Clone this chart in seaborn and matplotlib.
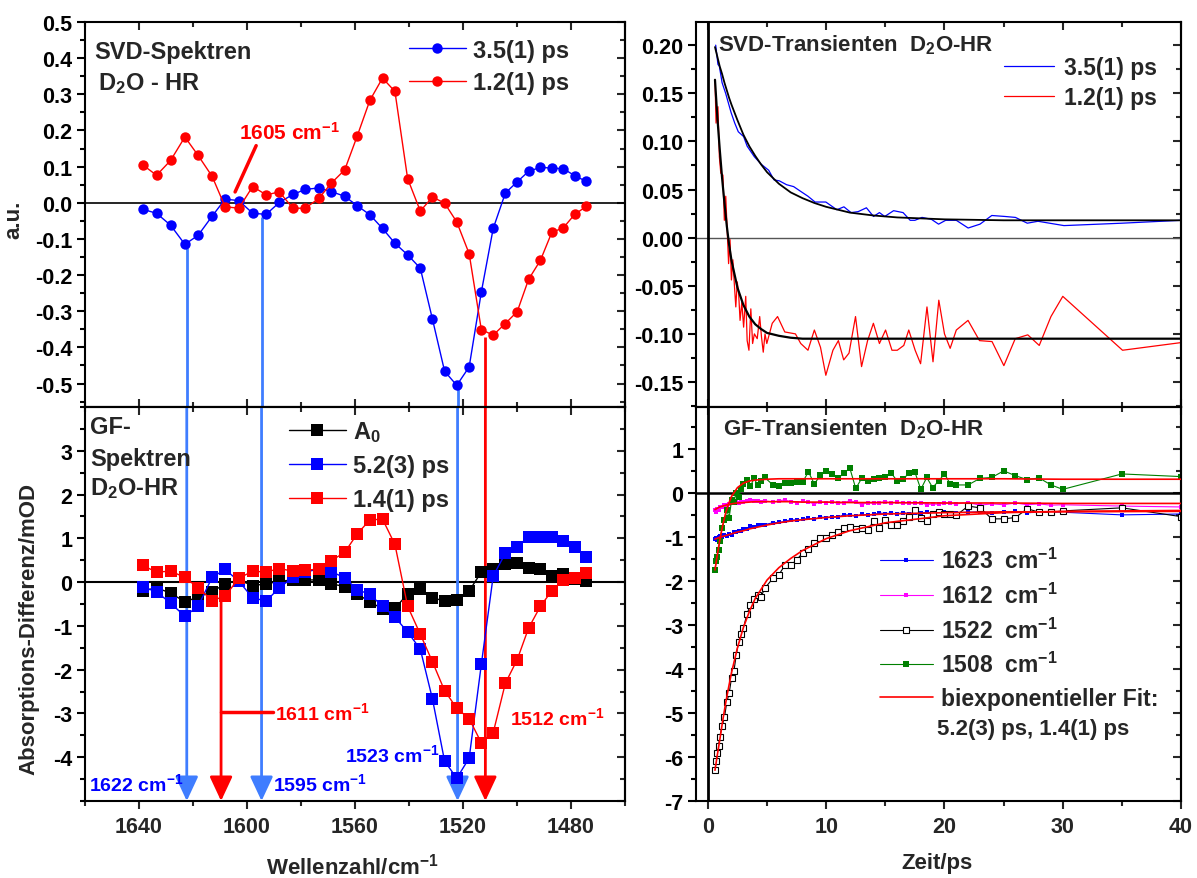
import matplotlib
matplotlib.use("Agg")
import matplotlib.pyplot as plt
import seaborn as sns
from matplotlib.ticker import MultipleLocator, FixedLocator, FormatStrFormatter

# ---------------- spectra (left column) ----------------
wavenumber = [1638.6, 1633.5, 1628.3, 1623.0, 1618.1, 1612.9, 1608.1, 1603.0, 1597.9, 1592.9,
              1588.0, 1583.0, 1578.4, 1573.4, 1568.8, 1563.8, 1559.2, 1554.5, 1549.8, 1545.2,
              1540.5, 1535.8, 1531.3, 1526.8, 1522.3, 1517.7, 1513.2, 1508.8, 1504.3, 1499.9,
              1495.7, 1491.3, 1487.1, 1482.8, 1478.6, 1474.3]
svd_35ps = [-0.018, -0.029, -0.062, -0.115, -0.090, -0.037, 0.010, 0.006, -0.029, -0.032,
            0.001, 0.023, 0.037, 0.041, 0.031, 0.018, -0.008, -0.033, -0.071, -0.112,
            -0.144, -0.181, -0.322, -0.466, -0.505, -0.454, -0.247, -0.071, 0.027, 0.058,
            0.087, 0.098, 0.096, 0.094, 0.075, 0.059]
svd_12ps = [0.105, 0.076, 0.117, 0.182, 0.131, 0.073, -0.011, -0.015, 0.045, 0.022,
            0.030, -0.015, -0.015, 0.012, 0.054, 0.091, 0.184, 0.283, 0.345, 0.308,
            0.067, -0.023, 0.016, -0.001, -0.053, -0.141, -0.351, -0.366, -0.334, -0.301,
            -0.212, -0.159, -0.082, -0.069, -0.032, -0.010]
gf_a0 = [-0.20, -0.13, -0.25, -0.45, -0.34, -0.22, -0.04, 0.05, -0.08, -0.04,
         0.02, 0.05, 0.05, 0.05, -0.04, -0.10, -0.27, -0.45, -0.61, -0.60,
         -0.27, -0.15, -0.36, -0.43, -0.40, -0.20, 0.23, 0.30, 0.42, 0.44,
         0.32, 0.29, 0.14, 0.19, 0.08, 0.02]
gf_52ps = [-0.11, -0.22, -0.48, -0.78, -0.55, 0.11, 0.29, 0.02, -0.36, -0.43,
           -0.13, 0.11, 0.23, 0.30, 0.24, 0.10, -0.17, -0.28, -0.55, -0.80,
           -1.14, -1.53, -2.67, -4.09, -4.48, -4.02, -1.88, 0.14, 0.66, 0.80,
           1.04, 1.02, 1.04, 0.93, 0.80, 0.57]
gf_14ps = [0.38, 0.23, 0.25, 0.11, -0.13, -0.42, -0.32, 0.09, 0.25, 0.23,
           0.31, 0.25, 0.27, 0.30, 0.49, 0.68, 1.10, 1.42, 1.44, 0.86,
           -0.55, -1.19, -1.82, -2.48, -2.88, -3.12, -3.67, -3.44, -2.31, -1.77,
           -1.05, -0.55, -0.20, 0.05, 0.09, 0.20]

# ---------------- SVD transients (top right) ----------------
t_svd_blue = [0.66, 0.85, 0.97, 1.2, 1.5, 1.96, 2.27, 2.57, 3.02, 3.32,
              3.93, 4.53, 5.14, 5.59, 6.04, 6.65, 7.25, 7.85, 8.46, 9.06,
              9.97, 10.9, 11.5, 12.1, 12.7, 13.4, 14.0, 14.5, 14.95, 15.7,
              16.5, 17.1, 17.5, 18.1, 18.9, 19.5, 20.1, 21.0, 22.0, 23.0,
              24.0, 25.1, 26.0, 27.0, 27.9, 30.1, 35.0, 40.0]
svd_blue = [0.200, 0.180, 0.178, 0.161, 0.150, 0.130, 0.119, 0.110, 0.105, 0.095,
            0.084, 0.076, 0.070, 0.060, 0.059, 0.055, 0.053, 0.048, 0.043, 0.037,
            0.037, 0.029, 0.032, 0.026, 0.027, 0.031, 0.022, 0.026, 0.022, 0.028,
            0.026, 0.018, 0.018, 0.021, 0.019, 0.014, 0.018, 0.018, 0.010, 0.014,
            0.023, 0.022, 0.021, 0.015, 0.017, 0.0125, 0.015, 0.018]
t_svd_red = [0.60, 0.69, 0.85, 0.97, 1.09, 1.27, 1.39, 1.51, 1.63, 1.75,
             1.87, 1.99, 2.11, 2.27, 2.36, 2.48, 2.60, 2.72, 2.87, 3.02,
             3.20, 3.32, 3.47, 3.63, 3.78, 3.93, 4.17, 4.38, 4.53, 4.68,
             4.83, 4.98, 5.20, 5.44, 5.89, 6.50, 7.40, 7.85, 8.46, 9.00,
             9.52, 9.97, 10.57, 11.03, 11.48, 11.93, 12.48, 12.99, 13.50, 13.99,
             14.50, 15.02, 15.56, 16.01, 16.56, 16.98, 17.52, 17.98, 18.52, 19.03,
             19.52, 20.00, 20.48, 21.00, 21.99, 22.96, 24.02, 25.02, 25.98, 27.04,
             28.01, 29.00, 30.00, 35.05, 40.03]
svd_red = [0.164, 0.119, 0.136, 0.084, 0.067, 0.065, 0.018, 0.043, 0.008, -0.027,
           -0.002, -0.044, -0.023, -0.055, -0.072, -0.046, -0.058, -0.086, -0.067, -0.093,
           -0.061, -0.107, -0.117, -0.074, -0.110, -0.100, -0.105, -0.082, -0.103, -0.119,
           -0.100, -0.110, -0.100, -0.089, -0.082, -0.098, -0.100, -0.110, -0.117, -0.096,
           -0.114, -0.143, -0.117, -0.107, -0.127, -0.120, -0.082, -0.134, -0.107, -0.089,
           -0.110, -0.096, -0.117, -0.117, -0.112, -0.096, -0.117, -0.131, -0.072, -0.129,
           -0.065, -0.100, -0.115, -0.096, -0.086, -0.107, -0.108, -0.133, -0.105, -0.101,
           -0.112, -0.082, -0.061, -0.117, -0.109]
t_svd_fit = [0.6, 0.8, 1.0, 1.2, 1.4, 1.6, 1.8, 2.0, 2.5, 3.0, 3.5, 4.0, 4.5, 5.0,
             6.0, 7.0, 8.0, 9.0, 10.0, 12.0, 14.0, 16.0, 18.0, 20.0, 25.0, 30.0, 40.0]
svd_blue_fit = [0.198, 0.188, 0.178, 0.170, 0.161, 0.153, 0.145, 0.138, 0.122, 0.107,
                0.095, 0.085, 0.076, 0.068, 0.056, 0.047, 0.041, 0.036, 0.032, 0.026,
                0.023, 0.021, 0.020, 0.019, 0.018, 0.018, 0.018]
svd_red_fit = [0.164, 0.125, 0.092, 0.062, 0.036, 0.012, -0.008, -0.024, -0.052, -0.070,
               -0.082, -0.090, -0.095, -0.099, -0.102, -0.104, -0.105, -0.105, -0.105, -0.105,
               -0.105, -0.105, -0.105, -0.105, -0.105, -0.105, -0.105]

# ---------------- GF transients (bottom right) ----------------
t_gf = [0.6, 0.7, 0.8, 0.9, 1.0, 1.2, 1.4, 1.6, 1.8, 2.0,
        2.2, 2.4, 2.6, 2.8, 3.0, 3.3, 3.6, 3.9, 4.2, 4.5,
        4.8, 5.5, 6.0, 6.5, 7.0, 7.5, 8.0, 8.5, 9.0, 9.5,
        10.0, 10.5, 11.0, 11.5, 12.0, 12.5, 13.0, 13.5, 14.0, 14.5,
        15.0, 15.5, 16.0, 16.5, 17.0, 17.5, 18.0, 18.5, 19.0, 19.5,
        20.0, 20.5, 21.0, 22, 23, 24, 25, 26, 27, 28,
        29, 30, 35, 40]
gf_1623 = [-1.05, -1.02, -1.06, -1.00, -0.99, -1.00, -0.96, -0.97, -0.93, -0.95,
           -0.90, -0.88, -0.86, -0.87, -0.83, -0.82, -0.76, -0.78, -0.74, -0.74,
           -0.72, -0.68, -0.67, -0.65, -0.61, -0.62, -0.60, -0.58, -0.60, -0.55,
           -0.56, -0.55, -0.55, -0.50, -0.50, -0.53, -0.49, -0.50, -0.49, -0.46,
           -0.47, -0.46, -0.48, -0.45, -0.47, -0.45, -0.46, -0.44, -0.46, -0.45,
           -0.44, -0.46, -0.45, -0.44, -0.43, -0.45, -0.44, -0.42, -0.45, -0.44,
           -0.43, -0.44, -0.50, -0.48]
gf_1612 = [-0.40, -0.43, -0.36, -0.38, -0.33, -0.31, -0.28, -0.27, -0.25, -0.24,
           -0.23, -0.21, -0.22, -0.20, -0.21, -0.19, -0.17, -0.19, -0.18, -0.20,
           -0.18, -0.21, -0.18, -0.16, -0.20, -0.22, -0.19, -0.21, -0.25, -0.21,
           -0.22, -0.20, -0.24, -0.22, -0.18, -0.21, -0.27, -0.22, -0.24, -0.22,
           -0.20, -0.23, -0.21, -0.24, -0.22, -0.24, -0.22, -0.27, -0.25, -0.26,
           -0.23, -0.24, -0.25, -0.22, -0.28, -0.25, -0.27, -0.23, -0.27, -0.25,
           -0.28, -0.27, -0.30, -0.32]
gf_1522 = [-6.30, -6.10, -5.90, -5.75, -5.55, -5.30, -5.10, -4.75, -4.55, -4.20,
           -4.05, -3.68, -3.38, -3.20, -3.08, -2.75, -2.55, -2.42, -2.32, -2.36,
           -2.17, -1.94, -1.86, -1.65, -1.65, -1.52, -1.37, -1.27, -1.14, -1.02,
           -1.02, -0.95, -0.89, -0.79, -0.77, -0.83, -0.79, -0.85, -0.64, -0.79,
           -0.62, -0.74, -0.74, -0.64, -0.55, -0.40, -0.56, -0.64, -0.49, -0.44,
           -0.47, -0.47, -0.51, -0.30, -0.34, -0.59, -0.59, -0.56, -0.36, -0.44,
           -0.44, -0.41, -0.34, -0.54]
gf_1508 = [-1.75, -1.55, -1.45, -1.30, -1.10, -0.80, -0.62, -0.40, -0.56, -0.17,
           -0.20, 0.00, -0.10, 0.08, 0.20, 0.30, 0.15, 0.33, 0.18, 0.26,
           0.35, 0.18, 0.15, 0.22, 0.22, 0.24, 0.24, 0.48, 0.20, 0.40,
           0.50, 0.43, 0.33, 0.45, 0.56, 0.10, 0.33, 0.27, 0.31, 0.33,
           0.35, 0.45, 0.27, 0.31, 0.45, 0.47, 0.08, 0.35, 0.12, 0.27,
           0.43, 0.20, 0.18, 0.18, 0.33, 0.35, 0.50, 0.39, 0.30, 0.34,
           0.18, 0.08, 0.43, 0.37]
t_gf_fit = [0.6, 0.8, 1.0, 1.25, 1.5, 1.75, 2.0, 2.5, 3.0, 3.5, 4.0,
            5.0, 6.0, 7.0, 8.0, 10.0, 12.0, 15.0, 20.0, 25.0, 30.0, 40.0]
fit_1522 = [-6.30, -5.95, -5.62, -5.18, -4.78, -4.42, -4.08, -3.52, -3.06, -2.70, -2.40,
            -1.98, -1.70, -1.49, -1.31, -1.04, -0.86, -0.68, -0.52, -0.45, -0.42, -0.40]
fit_1623 = [-1.05, -1.03, -1.01, -0.99, -0.97, -0.95, -0.93, -0.89, -0.86, -0.82, -0.79,
            -0.73, -0.68, -0.64, -0.61, -0.56, -0.52, -0.48, -0.45, -0.43, -0.43, -0.42]
fit_1612 = [-0.38, -0.35, -0.32, -0.30, -0.28, -0.26, -0.25, -0.23, -0.22, -0.21, -0.20,
            -0.20, -0.20, -0.20, -0.21, -0.21, -0.22, -0.22, -0.23, -0.23, -0.24, -0.24]
fit_1508 = [-1.75, -1.40, -1.08, -0.74, -0.46, -0.25, -0.08, 0.12, 0.22, 0.27, 0.29,
            0.31, 0.32, 0.32, 0.32, 0.32, 0.32, 0.32, 0.32, 0.32, 0.31, 0.31]

# ---------------- style ----------------
sns.set_theme(style="ticks")
plt.rcParams['font.family'] = ['Liberation Sans', 'DejaVu Sans']
plt.rcParams['font.weight'] = 'bold'
plt.rcParams['axes.labelweight'] = 'bold'
plt.rcParams['axes.unicode_minus'] = False
plt.rcParams['mathtext.fontset'] = 'custom'
plt.rcParams['mathtext.rm'] = 'Liberation Sans:bold'
plt.rcParams['mathtext.it'] = 'Liberation Sans:bold'
plt.rcParams['mathtext.bf'] = 'Liberation Sans:bold'
plt.rcParams['mathtext.default'] = 'rm'
plt.rcParams['axes.linewidth'] = 1.5

TICK = 15.5
LAB = 16
ARROW_BLUE = '#3f7dff'

fig = plt.figure(figsize=(11.97, 8.79), dpi=100)
ax_tl = fig.add_axes([0.0710, 0.5358, 0.4511, 0.4380])
ax_bl = fig.add_axes([0.0710, 0.0876, 0.4511, 0.4482])
ax_tr = fig.add_axes([0.5815, 0.5358, 0.4052, 0.4380])
ax_br = fig.add_axes([0.5815, 0.0876, 0.4052, 0.4482])


def style_axis(ax, xmaj, xmin, ymaj, ymin, bottom_labels):
    ax.set_facecolor('white')
    for s in ax.spines.values():
        s.set_linewidth(1.5)
        s.set_color('black')
    ax.xaxis.set_major_locator(MultipleLocator(xmaj))
    ax.xaxis.set_minor_locator(MultipleLocator(xmin))
    ax.yaxis.set_minor_locator(MultipleLocator(ymin))
    ax.tick_params(axis='y', which='both', direction='out', left=True, right=False,
                   width=1.5, labelsize=TICK, colors='black', pad=3)
    ax.tick_params(axis='y', which='major', length=6)
    ax.tick_params(axis='y', which='minor', length=3.5)
    if bottom_labels:
        ax.tick_params(axis='x', which='both', direction='out', bottom=True, top=False,
                       width=1.5, labelsize=TICK, pad=5)
        ax.tick_params(axis='x', which='major', length=6)
        ax.tick_params(axis='x', which='minor', length=3.5)
        sx = ax.secondary_xaxis('top')
        sx.xaxis.set_major_locator(MultipleLocator(xmaj))
        sx.xaxis.set_minor_locator(MultipleLocator(xmin))
        sx.tick_params(which='both', direction='in', labeltop=False, width=1.5)
        sx.tick_params(which='major', length=6)
        sx.tick_params(which='minor', length=3.5)
    else:
        ax.tick_params(axis='x', which='both', direction='in', bottom=True, top=True,
                       labelbottom=False, width=1.5)
        ax.tick_params(axis='x', which='major', length=6)
        ax.tick_params(axis='x', which='minor', length=3.5)
    sy = ax.secondary_yaxis('right')
    sy.yaxis.set_major_locator(MultipleLocator(ymaj))
    sy.yaxis.set_minor_locator(MultipleLocator(ymin))
    sy.tick_params(which='both', direction='in', labelright=False, width=1.5)
    sy.tick_params(which='major', length=6)
    sy.tick_params(which='minor', length=3.5)


# ---------------- top left: SVD spectra ----------------
ax = ax_tl
ax.axhline(0, color='black', lw=1.2, zorder=1)
# marker lines from the SVD spectra down into the GF panel
for x, y0, c in [(1622.3, -0.125, ARROW_BLUE), (1594.6, -0.04, ARROW_BLUE),
                 (1522.0, -0.515, ARROW_BLUE), (1511.7, -0.372, 'red')]:
    ax.plot([x, x], [y0, -0.565], color=c, lw=2, zorder=1, solid_capstyle='butt')
sns.lineplot(x=wavenumber, y=svd_35ps, ax=ax, color='blue', lw=1, marker='o',
             markersize=7.5, markeredgewidth=0, label='3.5(1) ps', zorder=3)
sns.lineplot(x=wavenumber, y=svd_12ps, ax=ax, color='red', lw=1, marker='o',
             markersize=7.5, markeredgewidth=0, label='1.2(1) ps', zorder=3)
ax.set_xlim(1660, 1460)
ax.set_ylim(-0.565, 0.5)
ax.yaxis.set_major_locator(MultipleLocator(0.1))
ax.yaxis.set_major_formatter(FormatStrFormatter('%.1f'))
style_axis(ax, 40, 20, 0.1, 0.05, False)
ax.set_ylabel('a.u.', fontsize=LAB)
ax.yaxis.set_label_coords(-0.112, 0.49)
ax.text(1656.7, 0.40, 'SVD-Spektren', fontsize=17, fontweight='bold')
ax.text(1655.3, 0.314, 'D$_2$O - HR', fontsize=17, fontweight='bold')
ax.text(1602.9, 0.176, '1605 cm$^{-1}$', fontsize=15, color='red', fontweight='bold')
ax.plot([1604.4, 1596.6], [0.030, 0.158], color='red', lw=2.5)
ax.legend(loc='upper left', bbox_to_anchor=(0.60, 0.957), frameon=False,
          fontsize=17, handlelength=2.4, handletextpad=0.3, labelspacing=0.4,
          borderpad=0, borderaxespad=0)

# ---------------- bottom left: GF spectra ----------------
ax = ax_bl
ax.axhline(0, color='black', lw=1.5, zorder=1)
arrow_style = '-|>,head_length=0.75,head_width=0.35'
for x, y0, c in [(1622.3, 4.0, ARROW_BLUE), (1609.6, -0.36, 'red'), (1594.6, 4.0, ARROW_BLUE),
                 (1522.0, 4.0, ARROW_BLUE), (1511.7, 4.0, 'red')]:
    ax.annotate('', xy=(x, -5.0), xytext=(x, y0),
                arrowprops=dict(arrowstyle=arrow_style, color=c, lw=2,
                                shrinkA=0, shrinkB=0, mutation_scale=20), zorder=1)
sns.lineplot(x=wavenumber, y=gf_a0, ax=ax, color='black', lw=1, marker='s',
             markersize=8, markeredgewidth=0, label='A$_0$', zorder=3)
sns.lineplot(x=wavenumber, y=gf_52ps, ax=ax, color='blue', lw=1, marker='s',
             markersize=8, markeredgewidth=0, label='5.2(3) ps', zorder=3)
sns.lineplot(x=wavenumber, y=gf_14ps, ax=ax, color='red', lw=1, marker='s',
             markersize=8, markeredgewidth=0, label='1.4(1) ps', zorder=3)
ax.set_xlim(1660, 1460)
ax.set_ylim(-5, 4)
ax.yaxis.set_major_locator(FixedLocator([-4, -3, -2, -1, 0, 1, 2, 3]))
style_axis(ax, 40, 20, 1, 0.5, True)
ax.set_xlabel('Wellenzahl/cm$^{-1}$', fontsize=LAB)
ax.xaxis.set_label_coords(0.496, -0.13)
ax.set_ylabel('Absorptions-Differenz/mOD', fontsize=LAB)
ax.yaxis.set_label_coords(-0.085, 0.44)
ax.text(1658.1, 3.40, 'GF-', fontsize=17)
ax.text(1658.1, 2.68, 'Spektren', fontsize=17)
ax.text(1658.1, 2.00, 'D$_2$O-HR', fontsize=17)
ax.plot([1609.6, 1590.5], [-2.97, -2.97], color='red', lw=2.5)
ax.text(1589.8, -3.12, '1611 cm$^{-1}$', fontsize=14, color='red')
ax.text(1502.5, -3.25, '1512 cm$^{-1}$', fontsize=14, color='red')
ax.text(1563.7, -4.08, '1523 cm$^{-1}$', fontsize=14, color='blue')
ax.text(1658.6, -4.75, '1622 cm$^{-1}$', fontsize=14, color='blue')
ax.text(1590.5, -4.76, '1595 cm$^{-1}$', fontsize=14, color='blue')
ax.legend(loc='upper left', bbox_to_anchor=(0.378, 0.97), frameon=False,
          fontsize=17, handlelength=2.4, handletextpad=0.3, labelspacing=0.45,
          borderpad=0, borderaxespad=0)

# ---------------- top right: SVD transients ----------------
ax = ax_tr
ax.axhline(0, color='#555555', lw=1, zorder=1)
ax.axvline(0, color='black', lw=2, zorder=1)
sns.lineplot(x=t_svd_blue, y=svd_blue, ax=ax, color='blue', lw=0.9, label='3.5(1) ps', zorder=2)
sns.lineplot(x=t_svd_red, y=svd_red, ax=ax, color='red', lw=0.9, label='1.2(1) ps', zorder=2)
sns.lineplot(x=t_svd_fit, y=svd_blue_fit, ax=ax, color='black', lw=1.3, zorder=3)
sns.lineplot(x=t_svd_fit, y=svd_red_fit, ax=ax, color='black', lw=1.6, zorder=3)
ax.set_xlim(-1, 40)
ax.set_ylim(-0.176, 0.224)
ax.yaxis.set_major_locator(MultipleLocator(0.05))
ax.yaxis.set_major_formatter(FormatStrFormatter('%.2f'))
style_axis(ax, 10, 5, 0.05, 0.025, False)
ax.set_ylabel('')
ax.text(0.85, 0.195, 'SVD-Transienten  D$_2$O-HR', fontsize=16)
handles, labels = ax.get_legend_handles_labels()
ax.legend(handles[:2], labels[:2], loc='upper left', bbox_to_anchor=(0.635, 0.912),
          frameon=False, fontsize=16.5, handlelength=2.2, handletextpad=0.4,
          labelspacing=0.3, borderpad=0, borderaxespad=0)

# ---------------- bottom right: GF transients ----------------
ax = ax_br
ax.axhline(0, color='black', lw=1.8, zorder=1)
ax.axvline(0, color='black', lw=2, zorder=1)
sns.lineplot(x=t_gf, y=gf_1623, ax=ax, color='blue', lw=0.8, marker='s', markersize=3,
             markeredgewidth=0, label='1623  cm$^{-1}$', zorder=2)
sns.lineplot(x=t_gf, y=gf_1612, ax=ax, color='magenta', lw=0.8, marker='s', markersize=3,
             markeredgewidth=0, label='1612  cm$^{-1}$', zorder=2)
sns.lineplot(x=t_gf, y=gf_1522, ax=ax, color='black', lw=0.8, marker='s', markersize=5,
             markerfacecolor='white', markeredgecolor='black', markeredgewidth=0.8,
             label='1522  cm$^{-1}$', zorder=2)
sns.lineplot(x=t_gf, y=gf_1508, ax=ax, color='green', lw=0.8, marker='s', markersize=4.5,
             markeredgewidth=0, label='1508  cm$^{-1}$', zorder=2)
sns.lineplot(x=t_gf_fit, y=fit_1522, ax=ax, color='red', lw=1.2,
             label='biexponentieller Fit:', zorder=3)
for fit in (fit_1623, fit_1612, fit_1508):
    sns.lineplot(x=t_gf_fit, y=fit, ax=ax, color='red', lw=1.2, zorder=3)
ax.set_xlim(-1, 40)
ax.set_ylim(-7, 1.95)
ax.yaxis.set_major_locator(MultipleLocator(1))
style_axis(ax, 10, 5, 1, 0.5, True)
ax.set_xlabel('Zeit/ps', fontsize=LAB)
ax.xaxis.set_label_coords(0.496, -0.13)
ax.set_ylabel('')
ax.text(1.27, 1.32, 'GF-Transienten  D$_2$O-HR', fontsize=16)
ax.text(19.36, -5.48, '5.2(3) ps, 1.4(1) ps', fontsize=16)
ax.legend(loc='upper left', bbox_to_anchor=(0.379, 0.643), frameon=False,
          fontsize=16.5, handlelength=2.3, handletextpad=0.35, labelspacing=0.42,
          borderpad=0, borderaxespad=0)

fig.savefig('out.png', dpi=100, facecolor='white')
